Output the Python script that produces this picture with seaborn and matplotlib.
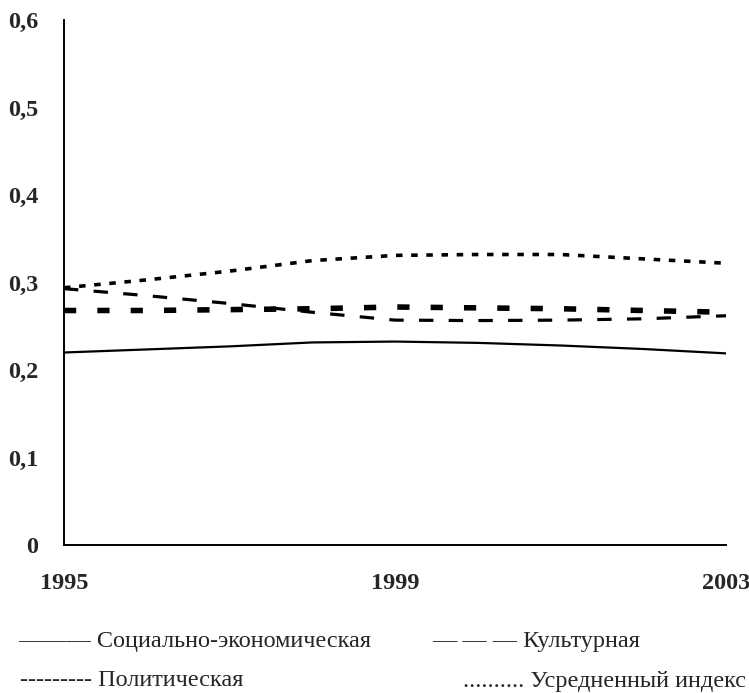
import pandas as pd
import matplotlib.pyplot as plt
import seaborn as sns

years = [1995, 1996, 1997, 1998, 1999, 2000, 2001, 2002, 2003]
social_econ = [0.220, 0.2235, 0.227, 0.2315, 0.2325, 0.231, 0.228, 0.224, 0.219]
cultural = [0.293, 0.285, 0.276, 0.266, 0.257, 0.2565, 0.257, 0.2585, 0.262]
political = [0.268, 0.268, 0.269, 0.270, 0.272, 0.271, 0.270, 0.268, 0.266]
average = [0.294, 0.303, 0.313, 0.325, 0.331, 0.332, 0.332, 0.327, 0.322]

names = ['Социально-экономическая', 'Культурная', 'Политическая', 'Усредненный индекс']
legend_marks = ['———', '— — —', '---------', '..........']
y_ticks = [0, 0.1, 0.2, 0.3, 0.4, 0.5, 0.6]
x_ticks = [1995, 1999, 2003]

df = pd.concat([
    pd.DataFrame({'year': years, 'value': vals, 'series': name})
    for name, vals in zip(names, [social_econ, cultural, political, average])
])

sns.set_style('white')
plt.rcParams['font.family'] = ['Liberation Serif', 'DejaVu Serif']

fig = plt.figure(figsize=(7.49, 6.93), dpi=100)
ax = fig.add_axes([64 / 749, 1 - 545 / 693, 662 / 749, 525 / 693])

sns.lineplot(
    data=df, x='year', y='value', style='series', size='series',
    dashes={names[0]: '', names[1]: (4.5, 4.8), names[2]: (2.2, 3.8), names[3]: (1.8, 2.4)},
    sizes={names[0]: 1.6, names[1]: 2.3, names[2]: 4.0, names[3]: 2.6},
    color='black', legend=False, ax=ax,
)

ax.set_xlim(1995, 2003)
ax.set_ylim(0, 0.6)
ax.set_xticks(x_ticks)
ax.set_yticks(y_ticks)
ax.set_yticklabels(['0'] + [f'{t:.1f}'.replace('.', ',') for t in y_ticks[1:]])
ax.set_xlabel('')
ax.set_ylabel('')
for s in ['top', 'right']:
    ax.spines[s].set_visible(False)
for s in ['left', 'bottom']:
    ax.spines[s].set_color('black')
    ax.spines[s].set_linewidth(1.4)
ax.tick_params(axis='both', direction='inout', length=11, width=0.9, color='black',
               labelsize=17.5)
ax.tick_params(axis='y', pad=13)
ax.tick_params(axis='x', pad=15)
for lab in ax.get_xticklabels() + ax.get_yticklabels():
    lab.set_fontweight('bold')

fs = 17.5
fig.text(18 / 749, 1 - 641 / 693, f'{legend_marks[0]} {names[0]}', fontsize=fs, va='center')
fig.text(432 / 749, 1 - 641 / 693, f'{legend_marks[1]} {names[1]}', fontsize=fs, va='center')
fig.text(20 / 749, 1 - 681 / 693, f'{legend_marks[2]} {names[2]}', fontsize=fs, va='center')
fig.text(746 / 749, 1 - 681 / 693, f'{legend_marks[3]} {names[3]}', fontsize=fs,
         va='center', ha='right')

fig.savefig('out.png', dpi=100)
plt.close(fig)
